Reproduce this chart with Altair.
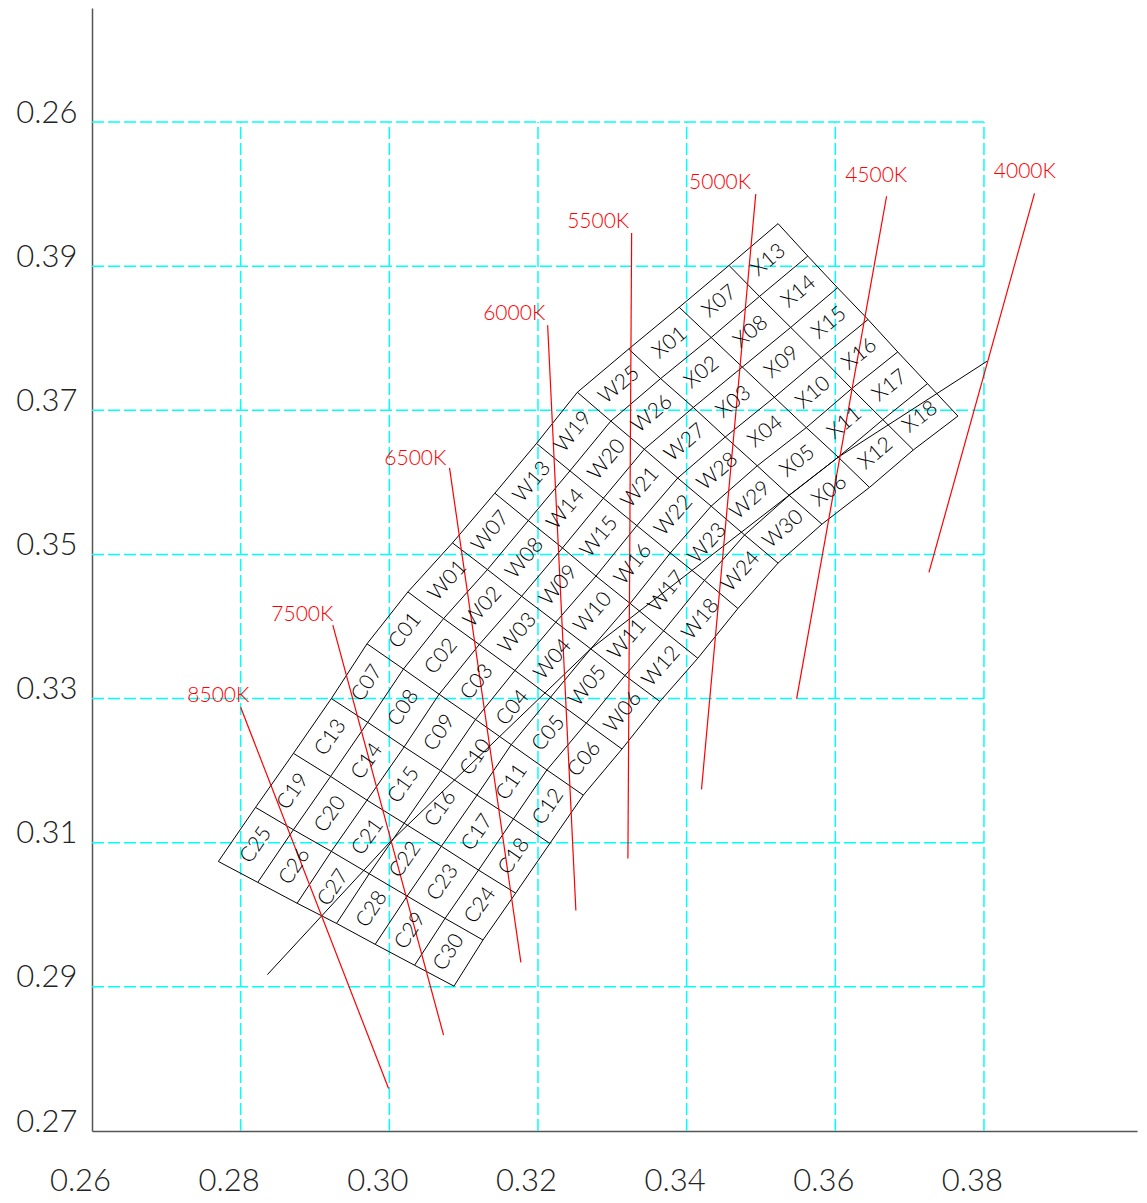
import math
import altair as alt
import pandas as pd

# ---------------- axes / frame ----------------
W, H = 1045, 1123
X_MIN, X_MAX = 0.26, 0.40059
Y_MIN, Y_MAX = 0.27, 0.42582

x_tick_values = [0.26, 0.28, 0.30, 0.32, 0.34, 0.36, 0.38]
x_tick_labels = ["0.26", "0.28", "0.30", "0.32", "0.34", "0.36", "0.38"]
y_tick_values = [0.27, 0.29, 0.31, 0.33, 0.35, 0.37, 0.39, 0.41]
y_tick_labels = ["0.27", "0.29", "0.31", "0.33", "0.35", "0.37", "0.39", "0.26"]

grid_x = [0.28, 0.30, 0.32, 0.34, 0.36, 0.38]
grid_x_span = [0.27, 0.41]
grid_y = [0.29, 0.31, 0.33, 0.35, 0.37, 0.39, 0.41]
grid_y_span = [0.26, 0.38]

# ---------------- bin mesh (14 cross lines x 7 points) ----------------
VX = [
    [0.2770, 0.2823, 0.2876, 0.2929, 0.2981, 0.3034, 0.3087],
    [0.2820, 0.2871, 0.2922, 0.2973, 0.3024, 0.3075, 0.3126],
    [0.2871, 0.2921, 0.2970, 0.3020, 0.3070, 0.3120, 0.3170],
    [0.2922, 0.2971, 0.3020, 0.3069, 0.3118, 0.3167, 0.3216],
    [0.2970, 0.3019, 0.3067, 0.3116, 0.3164, 0.3212, 0.3261],
    [0.3025, 0.3073, 0.3121, 0.3169, 0.3217, 0.3265, 0.3313],
    [0.3085, 0.3132, 0.3178, 0.3224, 0.3271, 0.3317, 0.3364],
    [0.3142, 0.3187, 0.3233, 0.3278, 0.3324, 0.3369, 0.3415],
    [0.3198, 0.3243, 0.3288, 0.3333, 0.3378, 0.3424, 0.3469],
    [0.3253, 0.3298, 0.3343, 0.3388, 0.3433, 0.3478, 0.3523],
    [0.3322, 0.3365, 0.3409, 0.3452, 0.3495, 0.3538, 0.3582],
    [0.3390, 0.3433, 0.3475, 0.3518, 0.3561, 0.3604, 0.3646],
    [0.3457, 0.3498, 0.3540, 0.3581, 0.3622, 0.3664, 0.3705],
    [0.3523, 0.3563, 0.3603, 0.3644, 0.3684, 0.3724, 0.3765],
]
VY = [
    [0.3074, 0.3045, 0.3016, 0.2988, 0.2959, 0.2930, 0.2901],
    [0.3149, 0.3118, 0.3088, 0.3057, 0.3026, 0.2995, 0.2965],
    [0.3224, 0.3192, 0.3159, 0.3127, 0.3095, 0.3062, 0.3030],
    [0.3300, 0.3267, 0.3233, 0.3200, 0.3166, 0.3133, 0.3099],
    [0.3376, 0.3341, 0.3306, 0.3271, 0.3236, 0.3201, 0.3166],
    [0.3448, 0.3411, 0.3375, 0.3339, 0.3302, 0.3266, 0.3230],
    [0.3516, 0.3479, 0.3442, 0.3406, 0.3369, 0.3332, 0.3296],
    [0.3585, 0.3547, 0.3509, 0.3470, 0.3432, 0.3394, 0.3356],
    [0.3654, 0.3616, 0.3578, 0.3540, 0.3502, 0.3464, 0.3425],
    [0.3725, 0.3685, 0.3646, 0.3606, 0.3567, 0.3527, 0.3488],
    [0.3785, 0.3744, 0.3704, 0.3663, 0.3623, 0.3582, 0.3542],
    [0.3843, 0.3801, 0.3760, 0.3718, 0.3676, 0.3635, 0.3593],
    [0.3901, 0.3858, 0.3815, 0.3773, 0.3730, 0.3687, 0.3645],
    [0.3959, 0.3914, 0.3870, 0.3826, 0.3781, 0.3737, 0.3692],
]
band_prefix = ["C"] * 5 + ["W"] * 5 + ["X"] * 3
band_first = [25, 19, 13, 7, 1, 1, 7, 13, 19, 25, 1, 7, 13]

# ---------------- Planckian locus ----------------
locus_x = [0.2836, 0.3000, 0.3271, 0.3604, 0.3804]
locus_y = [0.2917, 0.3100, 0.3369, 0.3635, 0.3768]

# ---------------- isotherm lines ----------------
cct_names = ["8500K", "7500K", "6500K", "6000K", "5500K", "5000K", "4500K", "4000K"]
cct_x1 = [0.2800, 0.2924, 0.3081, 0.3213, 0.3326, 0.3493, 0.3669, 0.3868]
cct_y1 = [0.3288, 0.3402, 0.3620, 0.3818, 0.3946, 0.4000, 0.3997, 0.4001]
cct_x2 = [0.2999, 0.3073, 0.3177, 0.3251, 0.3321, 0.3420, 0.3548, 0.3726]
cct_y2 = [0.2759, 0.2833, 0.2934, 0.3006, 0.3078, 0.3174, 0.3300, 0.3475]
cct_label_x = [0.2770, 0.2883, 0.3035, 0.3168, 0.3281, 0.3445, 0.3655, 0.3855]
cct_label_y = [0.3304, 0.3416, 0.3632, 0.3834, 0.3961, 0.4015, 0.4025, 0.4031]

# ---------------- build tables ----------------
SX = W / (X_MAX - X_MIN)
SY = H / (Y_MAX - Y_MIN)

mesh_rows = []
for i in range(len(VX)):
    for j in range(7):
        mesh_rows.append({"line": f"i{i}", "seq": j, "x": VX[i][j], "y": VY[i][j]})
for j in range(7):
    for i in range(len(VX)):
        mesh_rows.append({"line": f"j{j}", "seq": i, "x": VX[i][j], "y": VY[i][j]})
mesh_df = pd.DataFrame(mesh_rows)

cell_rows = []
for i in range(len(VX) - 1):
    for k in range(6):
        cx = (VX[i][k] + VX[i][k + 1] + VX[i + 1][k] + VX[i + 1][k + 1]) / 4
        cy = (VY[i][k] + VY[i][k + 1] + VY[i + 1][k] + VY[i + 1][k + 1]) / 4
        dx = ((VX[i + 1][k] - VX[i][k]) + (VX[i + 1][k + 1] - VX[i][k + 1])) / 2 * SX
        dy = ((VY[i + 1][k] - VY[i][k]) + (VY[i + 1][k + 1] - VY[i][k + 1])) / 2 * SY
        ang = (-math.degrees(math.atan2(dy, dx))) % 360
        cell_rows.append({"name": f"{band_prefix[i]}{band_first[i] + k:02d}",
                          "cx": cx, "cy": cy, "ang": ang})
cell_df = pd.DataFrame(cell_rows)

locus_df = pd.DataFrame({"x": locus_x, "y": locus_y, "seq": list(range(len(locus_x)))})

iso_rows = []
for n, a, b, c, d in zip(cct_names, cct_x1, cct_y1, cct_x2, cct_y2):
    iso_rows.append({"cct": n, "seq": 0, "x": a, "y": b})
    iso_rows.append({"cct": n, "seq": 1, "x": c, "y": d})
iso_df = pd.DataFrame(iso_rows)
iso_lab_df = pd.DataFrame({"cct": cct_names, "x": cct_label_x, "y": cct_label_y})

gv_df = pd.DataFrame({"x": grid_x, "y0": grid_x_span[0], "y1": grid_x_span[1]})
gh_df = pd.DataFrame({"y": grid_y, "x0": grid_y_span[0], "x1": grid_y_span[1]})


def label_expr(values, labels):
    expr = "''"
    for v, l in reversed(list(zip(values, labels))):
        expr = f"abs(datum.value - {v}) < 0.001 ? '{l}' : ({expr})"
    return expr


FONT = "Lato"
xs = alt.Scale(domain=[X_MIN, X_MAX], nice=False, zero=False)
ys = alt.Scale(domain=[Y_MIN, Y_MAX], nice=False, zero=False)
x_axis = alt.Axis(values=x_tick_values, labelExpr=label_expr(x_tick_values, x_tick_labels),
                  title="", ticks=False, grid=False, domainColor="#555555", domainWidth=1.5,
                  labelFont=FONT, labelFontSize=31, labelFontWeight=300, labelColor="#222222",
                  labelPadding=35, labelOffset=-12, labelAngle=0, labelFlush=False,
                  labelOverlap=False, labelBaseline="top")
y_axis = alt.Axis(values=y_tick_values, labelExpr=label_expr(y_tick_values, y_tick_labels),
                  title="", ticks=False, grid=False, domainColor="#555555", domainWidth=1.5,
                  labelFont=FONT, labelFontSize=31, labelFontWeight=300, labelColor="#222222",
                  labelPadding=15, labelAlign="right", labelBaseline="alphabetic",
                  labelFlush=False, labelOverlap=False)


def X(f):
    return alt.X(f"{f}:Q", scale=xs, axis=x_axis)


def Y(f):
    return alt.Y(f"{f}:Q", scale=ys, axis=y_axis)


grid_v = alt.Chart(gv_df).mark_rule(color="#00FFFF", strokeDash=[12, 4], strokeWidth=1.5).encode(
    x=X("x"), y=Y("y0"), y2="y1")
grid_h = alt.Chart(gh_df).mark_rule(color="#00FFFF", strokeDash=[12, 4], strokeWidth=1.5).encode(
    y=Y("y"), x=X("x0"), x2="x1")

mesh = alt.Chart(mesh_df).mark_line(color="black", strokeWidth=1).encode(
    x=X("x"), y=Y("y"), detail="line:N", order="seq:Q")

locus = alt.Chart(locus_df).mark_line(color="black", strokeWidth=1).encode(
    x=X("x"), y=Y("y"), order="seq:Q")

iso = alt.Chart(iso_df).mark_line(color="#FF0000", strokeWidth=1.2).encode(
    x=X("x"), y=Y("y"), detail="cct:N", order="seq:Q")

iso_lab = alt.Chart(iso_lab_df).mark_text(color="#FF0000", font=FONT, fontSize=21, fontWeight=300,
                                          align="center", baseline="middle").encode(
    x=X("x"), y=Y("y"), text="cct:N")

cells = alt.Chart(cell_df).mark_text(color="black", font=FONT, fontSize=21, fontWeight=300,
                                     align="center", baseline="middle").encode(
    x=X("cx"), y=Y("cy"), text="name:N", angle=alt.Angle("ang:Q", scale=None))

chart = alt.layer(grid_v, grid_h, mesh, locus, iso, iso_lab, cells).properties(
    width=W, height=H,
    autosize=alt.AutoSizeParams(type="none"),
    padding={"left": 84, "top": 0, "right": 2, "bottom": 65},
    background="white",
).configure_view(stroke=None)

chart.save("out.html", embed_options={"renderer": "svg", "actions": False})
